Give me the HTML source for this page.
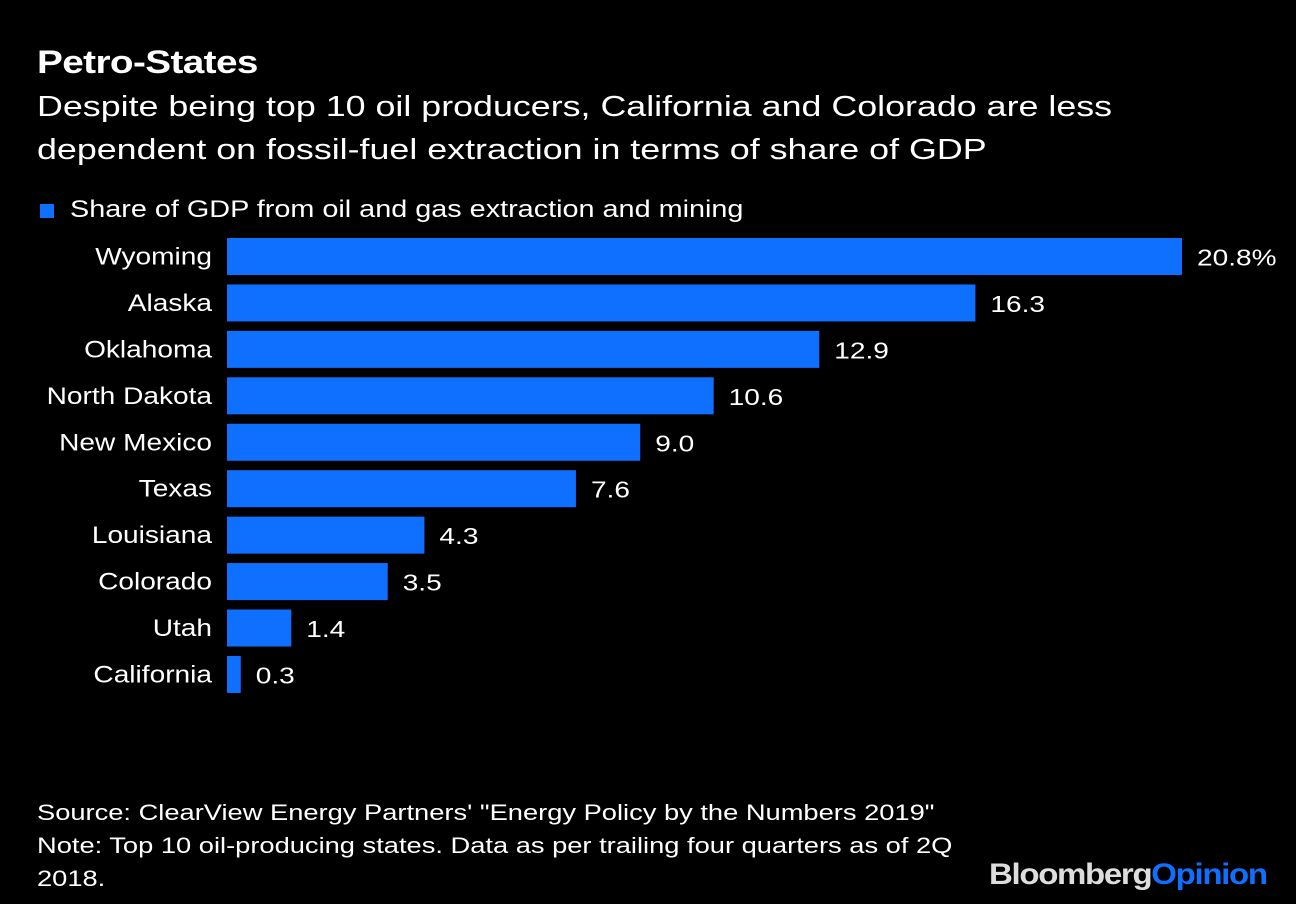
<!DOCTYPE html>
<html><head><meta charset="utf-8"><style>
body{margin:0;background:#000;width:1296px;height:904px;overflow:hidden;font-family:"Liberation Sans",Arial,sans-serif;color:#fff}
.t{position:absolute;white-space:nowrap;transform-origin:0 0}
</style></head><body>
<div class="t" style="left:37px;top:44px;font-size:32px;font-weight:bold;letter-spacing:-0.5px;transform:scaleX(1.21)">Petro-States</div>
<div class="t" style="left:37px;top:86px;font-size:29px;line-height:43px;transform:scaleX(1.235)">Despite being top 10 oil producers, California and Colorado are less<br>dependent on fossil-fuel extraction in terms of share of GDP</div>
<div class="t" style="left:40px;top:204px;width:14px;height:14px;background:#0f6fff"></div>
<div class="t" style="left:70px;top:196px;font-size:24px;transform:scaleX(1.2)">Share of GDP from oil and gas extraction and mining</div>
<svg id="chart" style="position:absolute;left:0;top:0" width="1296" height="760"></svg>
<div class="t" style="left:37px;top:796px;font-size:22px;line-height:33px;transform:scaleX(1.24)">Source: ClearView Energy Partners' "Energy Policy by the Numbers 2019"<br>Note: Top 10 oil-producing states. Data as per trailing four quarters as of 2Q<br>2018.</div>
<div class="t" style="left:989px;top:858px;font-size:30px;font-weight:bold;letter-spacing:-1.2px;transform:scaleX(1.1)"><span style="color:#ddd">Bloomberg</span><span style="color:#0f6fff">Opinion</span></div>
<script>
const categories=["Wyoming","Alaska","Oklahoma","North Dakota","New Mexico","Texas","Louisiana","Colorado","Utah","California"];
const values=[20.8,16.3,12.9,10.6,9.0,7.6,4.3,3.5,1.4,0.3];
const valueLabels=["20.8%","16.3","12.9","10.6","9.0","7.6","4.3","3.5","1.4","0.3"];
const svg=document.getElementById('chart');
const NS='http://www.w3.org/2000/svg';
const x0=227,scale=955/20.8;
const xs=v=>x0+v*scale;
const y0=238,pitch=46.44,bh=37;
const ys=i=>y0+i*pitch;
categories.forEach((c,i)=>{
  const r=document.createElementNS(NS,'rect');
  r.setAttribute('x',x0);r.setAttribute('y',ys(i));
  r.setAttribute('width',xs(values[i])-x0);r.setAttribute('height',bh);
  r.setAttribute('fill','#0f6fff');
  
  
  svg.appendChild(r);
  const t=document.createElementNS(NS,'text');
  t.setAttribute('x',0);t.setAttribute('y',0);
  t.setAttribute('transform','translate(212,'+(ys(i)+bh/2+8)+') scale(1.17,1)');
  t.setAttribute('text-anchor','end');t.setAttribute('fill','#fff');t.setAttribute('font-size','24');
  t.textContent=c;
  
  
  svg.appendChild(t);
  const v=document.createElementNS(NS,'text');
  v.setAttribute('x',0);v.setAttribute('y',0);
  v.setAttribute('transform','translate('+(xs(values[i])+15)+','+(ys(i)+bh/2+9)+') scale(1.22,1)');
  v.setAttribute('fill','#fff');v.setAttribute('font-size','23');
  v.textContent=valueLabels[i];
  
  
  svg.appendChild(v);
});
</script>
</body></html>
